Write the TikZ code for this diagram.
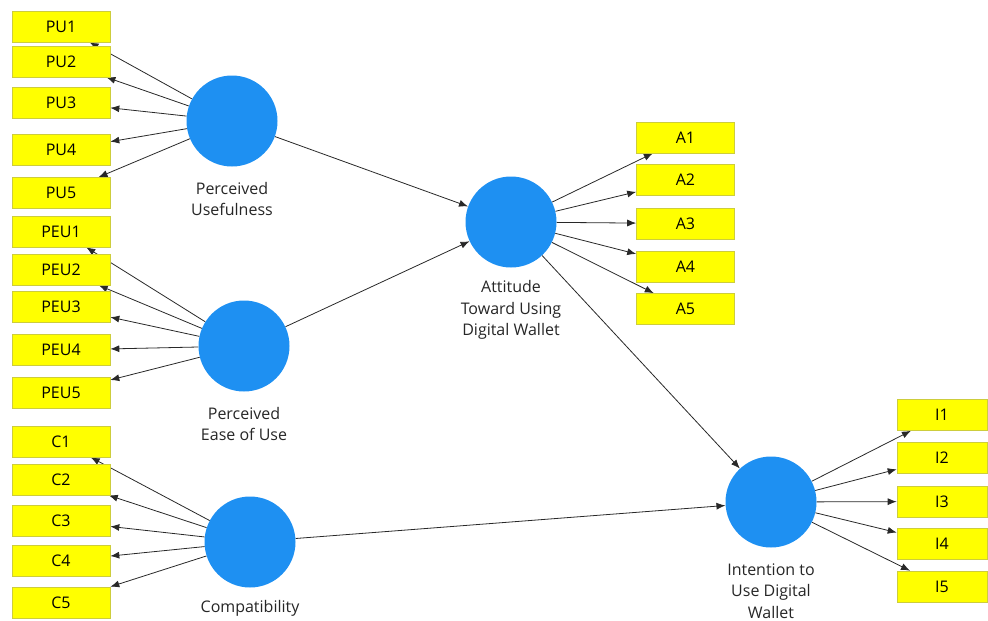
\documentclass[tikz,border=0pt]{standalone}
\usepackage{fontspec}
\setmainfont{Open Sans}
\usetikzlibrary{arrows.meta,backgrounds}
\definecolor{latentblue}{RGB}{30,144,242}
\definecolor{itemyellow}{RGB}{255,255,0}
\definecolor{itemedge}{RGB}{205,205,60}
\definecolor{linkgray}{RGB}{40,40,40}
\begin{document}
\begin{tikzpicture}[x=1pt,y=-1pt,
  font=\fontsize{16}{21.5}\selectfont,
  item/.style={rectangle,fill=itemyellow,draw=itemedge,line width=0.6pt,
    minimum width=98pt,minimum height=31pt,inner sep=0pt},
  itemnarrow/.style={item,minimum width=90pt},
  latent/.style={circle,fill=latentblue,minimum size=91pt,inner sep=0pt},
  caption/.style={align=center,text=black!85,inner sep=0pt},
  link/.style={draw=linkgray,line width=0.8pt,-{Latex[length=9pt,width=7pt]}}]
\useasboundingbox (0,0) rectangle (988,621);

% latent constructs
\node[latent] (PU)  at (232,121) {};
\node[latent] (PEU) at (244,346) {};
\node[latent] (CO)  at (250,542) {};
\node[latent] (AT)  at (511,222) {};
\node[latent] (IN)  at (771,502) {};

\node[caption] (PUlab)  at (232,199) {Perceived\\Usefulness};
\node[caption] (PEUlab) at (244,424) {Perceived\\Ease of Use};
\node[caption] (COlab)  at (250,608) {Compatibility};
\node[caption] (ATlab)  at (511,310) {Attitude\\Toward Using\\Digital Wallet};
\node[caption] (INlab)  at (771,591) {Intention to\\Use Digital\\Wallet};

% indicators
\foreach \n/\y in {1/26.5,2/61.5,3/102.5,4/150,5/193}
  \node[item] (PU\n) at (61,\y) {PU\n};
\foreach \n/\y in {1/231.5,2/269.5,3/306.5,4/350,5/392.5}
  \node[item] (PEU\n) at (61,\y) {PEU\n};
\foreach \n/\y in {1/441.5,2/479.5,3/521,4/561,5/602.5}
  \node[item] (C\n) at (61,\y) {C\n};
\foreach \n/\y in {1/137.5,2/180,3/223.5,4/266.5,5/309}
  \node[item] (A\n) at (685.5,\y) {A\n};
\foreach \n/\y in {1/415,2/457.5,3/501.5,4/543.5,5/586.5}
  \node[itemnarrow] (I\n) at (942,\y) {I\n};

% paths, kept behind the boxes
\begin{scope}[on background layer]
  \foreach \n in {1,...,5} {
    \draw[link] (PU) -- (PU\n);
    \draw[link] (PEU) -- (PEU\n);
    \draw[link] (CO) -- (C\n);
    \draw[link] (AT) -- (A\n);
    \draw[link] (IN) -- (I\n);
  }
  \draw[link] (PU) -- (AT);
  \draw[link] (PEU) -- (AT);
  \draw[link] (AT) -- (IN);
  \draw[link] (CO) -- (IN);
\end{scope}
\end{tikzpicture}
\end{document}
